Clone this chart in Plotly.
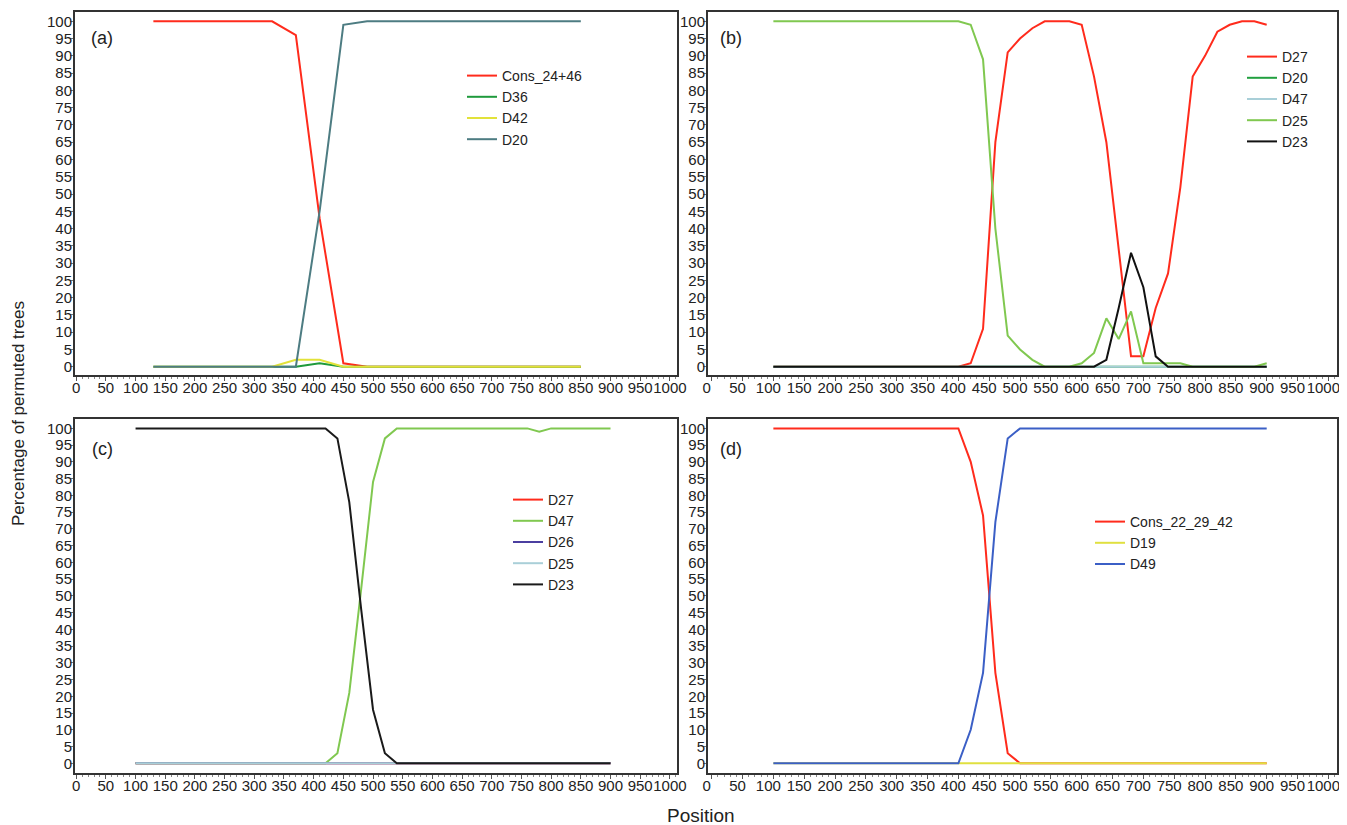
import plotly.graph_objects as go

# ---------------- data ----------------
pos_a = [130, 170, 210, 250, 290, 330, 370, 410, 450, 490, 530, 570, 610, 650, 690, 730, 770, 810, 850]
a_cons = [100, 100, 100, 100, 100, 100, 96, 43, 1, 0, 0, 0, 0, 0, 0, 0, 0, 0, 0]
a_d36 = [0, 0, 0, 0, 0, 0, 0, 1, 0, 0, 0, 0, 0, 0, 0, 0, 0, 0, 0]
a_d42 = [0, 0, 0, 0, 0, 0, 2, 2, 0, 0, 0, 0, 0, 0, 0, 0, 0, 0, 0]
a_d20 = [0, 0, 0, 0, 0, 0, 0, 45, 99, 100, 100, 100, 100, 100, 100, 100, 100, 100, 100]

pos = [100, 120, 140, 160, 180, 200, 220, 240, 260, 280, 300, 320, 340, 360, 380, 400,
       420, 440, 460, 480, 500, 520, 540, 560, 580, 600, 620, 640, 660, 680, 700, 720,
       740, 760, 780, 800, 820, 840, 860, 880, 900]

b_d27 = [0, 0, 0, 0, 0, 0, 0, 0, 0, 0, 0, 0, 0, 0, 0, 0,
         1, 11, 65, 91, 95, 98, 100, 100, 100, 99, 84, 65, 34, 3, 3, 17,
         27, 52, 84, 90, 97, 99, 100, 100, 99]
b_d20 = [0, 0, 0, 0, 0, 0, 0, 0, 0, 0, 0, 0, 0, 0, 0, 0,
         0, 0, 0, 0, 0, 0, 0, 0, 0, 0, 0, 0, 0, 0, 0, 0,
         0, 0, 0, 0, 0, 0, 0, 0, 0]
b_d47 = [0, 0, 0, 0, 0, 0, 0, 0, 0, 0, 0, 0, 0, 0, 0, 0,
         0, 0, 0, 0, 0, 0, 0, 0, 0, 0, 0, 0, 0, 0, 0, 0,
         0, 0, 0, 0, 0, 0, 0, 0, 0]
b_d25 = [100, 100, 100, 100, 100, 100, 100, 100, 100, 100, 100, 100, 100, 100, 100, 100,
         99, 89, 40, 9, 5, 2, 0, 0, 0, 1, 4, 14, 8, 16, 1, 1,
         1, 1, 0, 0, 0, 0, 0, 0, 1]
b_d23 = [0, 0, 0, 0, 0, 0, 0, 0, 0, 0, 0, 0, 0, 0, 0, 0,
         0, 0, 0, 0, 0, 0, 0, 0, 0, 0, 0, 2, 17, 33, 23, 3,
         0, 0, 0, 0, 0, 0, 0, 0, 0]

c_d27 = [0, 0, 0, 0, 0, 0, 0, 0, 0, 0, 0, 0, 0, 0, 0, 0,
         0, 0, 0, 0, 0, 0, 0, 0, 0, 0, 0, 0, 0, 0, 0, 0,
         0, 0, 0, 0, 0, 0, 0, 0, 0]
c_d47 = [0, 0, 0, 0, 0, 0, 0, 0, 0, 0, 0, 0, 0, 0, 0, 0,
         0, 3, 21, 52, 84, 97, 100, 100, 100, 100, 100, 100, 100, 100, 100, 100,
         100, 100, 99, 100, 100, 100, 100, 100, 100]
c_d26 = [0, 0, 0, 0, 0, 0, 0, 0, 0, 0, 0, 0, 0, 0, 0, 0,
         0, 0, 0, 0, 0, 0, 0, 0, 0, 0, 0, 0, 0, 0, 0, 0,
         0, 0, 0, 0, 0, 0, 0, 0, 0]
c_d25 = [0, 0, 0, 0, 0, 0, 0, 0, 0, 0, 0, 0, 0, 0, 0, 0,
         0, 0, 0, 0, 0, 0, 0, 0, 0, 0, 0, 0, 0, 0, 0, 0,
         0, 0, 0, 0, 0, 0, 0, 0, 0]
c_d23 = [100, 100, 100, 100, 100, 100, 100, 100, 100, 100, 100, 100, 100, 100, 100, 100,
         100, 97, 78, 46, 16, 3, 0, 0, 0, 0, 0, 0, 0, 0, 0, 0,
         0, 0, 0, 0, 0, 0, 0, 0, 0]

d_cons = [100, 100, 100, 100, 100, 100, 100, 100, 100, 100, 100, 100, 100, 100, 100, 100,
          90, 74, 27, 3, 0, 0, 0, 0, 0, 0, 0, 0, 0, 0, 0, 0,
          0, 0, 0, 0, 0, 0, 0, 0, 0]
d_d19 = [0, 0, 0, 0, 0, 0, 0, 0, 0, 0, 0, 0, 0, 0, 0, 0,
         0, 0, 0, 0, 0, 0, 0, 0, 0, 0, 0, 0, 0, 0, 0, 0,
         0, 0, 0, 0, 0, 0, 0, 0, 0]
d_d49 = [0, 0, 0, 0, 0, 0, 0, 0, 0, 0, 0, 0, 0, 0, 0, 0,
         10, 27, 72, 97, 100, 100, 100, 100, 100, 100, 100, 100, 100, 100, 100, 100,
         100, 100, 100, 100, 100, 100, 100, 100, 100]

panel_labels = ["(a)", "(b)", "(c)", "(d)"]

# ---------------- style ----------------
RED = "#ff2b1c"
FONT = "Arial, Liberation Sans, Helvetica, sans-serif"
# page body has an 8px margin; the figure origin sits at (8, 8) in the window
OFF = 8
W, H = 1347, 825

fig = go.Figure()

def add(x, y, name, color, xa, ya, leg, width=2):
    fig.add_trace(go.Scatter(x=x, y=y, name=name, mode="lines",
                             line=dict(color=color, width=width),
                             xaxis=xa, yaxis=ya, legend=leg))

# (a)
add(pos_a, a_cons, "Cons_24+46", RED, "x", "y", "legend")
add(pos_a, a_d36, "D36", "#1f9a3c", "x", "y", "legend")
add(pos_a, a_d42, "D42", "#e2e23a", "x", "y", "legend")
add(pos_a, a_d20, "D20", "#4d7c82", "x", "y", "legend")
# (b)
add(pos, b_d27, "D27", RED, "x2", "y2", "legend2")
add(pos, b_d20, "D20", "#22a040", "x2", "y2", "legend2")
add(pos, b_d47, "D47", "#a9cfd8", "x2", "y2", "legend2")
add(pos, b_d25, "D25", "#80c850", "x2", "y2", "legend2")
add(pos, b_d23, "D23", "#111111", "x2", "y2", "legend2")
# (c)
add(pos, c_d27, "D27", RED, "x3", "y3", "legend3")
add(pos, c_d47, "D47", "#80c850", "x3", "y3", "legend3")
add(pos, c_d26, "D26", "#4b3fa0", "x3", "y3", "legend3")
add(pos, c_d25, "D25", "#a9cfd8", "x3", "y3", "legend3")
add(pos, c_d23, "D23", "#1a1a1a", "x3", "y3", "legend3")
# (d)
add(pos, d_cons, "Cons_22_29_42", RED, "x4", "y4", "legend4")
add(pos, d_d19, "D19", "#e0e040", "x4", "y4", "legend4")
add(pos, d_d49, "D49", "#3b5fc6", "x4", "y4", "legend4")

def px_x(p):
    return (p - OFF) / W

def px_y(p):
    return 1 - (p - OFF) / H

left_dom = [px_x(75), px_x(677)]
right_dom = [px_x(708), px_x(1337)]
top_dom = [px_y(375), px_y(12)]
bot_dom = [px_y(773), px_y(419)]

def xax(dom, anchor, rng, shift=0):
    return dict(domain=dom, anchor=anchor, range=rng, tickmode="linear", tick0=0, dtick=50,
                showline=True, mirror=True, linecolor="#333333", linewidth=2,
                ticks="outside", ticklen=4, tickcolor="#555555", tickwidth=1,
                minor=dict(dtick=10, ticks="outside", ticklen=2, tickcolor="#888888"),
                showgrid=False, zeroline=False, tickangle=0, automargin=False,
                ticklabelstandoff=-6, ticklabelshift=shift, ticklabeloverflow="allow",
                tickfont=dict(family=FONT, size=15, color="#222222"))

def yax(dom, anchor, rng):
    return dict(domain=dom, anchor=anchor, range=rng, tickmode="linear", tick0=0, dtick=5,
                showline=True, mirror=True, linecolor="#333333", linewidth=2,
                ticks="outside", ticklen=3, tickcolor="#777777", tickwidth=1,
                showgrid=False, zeroline=False, automargin=False,
                ticklabelstandoff=-5,
                tickfont=dict(family=FONT, size=15, color="#222222"))

fig.update_layout(
    width=W, height=H, autosize=False,
    margin=dict(l=0, r=0, t=0, b=0),
    paper_bgcolor="white", plot_bgcolor="white",
    font=dict(family=FONT, color="#222222"),
    xaxis=xax(left_dom, "y", [-2, 1012]),
    yaxis=yax(top_dom, "x", [-2.4, 102.7]),
    xaxis2=xax(right_dom, "y2", [-6, 1014], shift=-5),
    yaxis2=yax(top_dom, "x2", [-2.4, 102.7]),
    xaxis3=xax(left_dom, "y3", [-2, 1012]),
    yaxis3=yax(bot_dom, "x3", [-2.9, 102.8]),
    xaxis4=xax(right_dom, "y4", [-6, 1014], shift=-5),
    yaxis4=yax(bot_dom, "x4", [-2.9, 102.8]),
    showlegend=True,
)

def leg(xp, yp):
    return dict(x=px_x(xp), y=px_y(yp), xanchor="left", yanchor="top",
                bgcolor="rgba(255,255,255,0)", borderwidth=0, itemwidth=30,
                font=dict(family=FONT, size=14, color="#222222"), tracegroupgap=0)

fig.update_layout(
    legend=leg(462, 60),
    legend2=leg(1242, 41),
    legend3=leg(508, 484),
    legend4=leg(1090, 506),
)

annots = []
for lab, (xp, yp) in zip(panel_labels, [(102, 38), (731, 38), (102, 449), (731, 449)]):
    annots.append(dict(text=lab, x=px_x(xp), y=px_y(yp), xref="paper", yref="paper",
                       showarrow=False, xanchor="center", yanchor="middle",
                       font=dict(family=FONT, size=18, color="#222222")))
annots.append(dict(text="Percentage of permuted trees", x=px_x(18), y=px_y(414),
                   xref="paper", yref="paper", showarrow=False, textangle=-90,
                   xanchor="center", yanchor="middle",
                   font=dict(family=FONT, size=17, color="#222222")))
annots.append(dict(text="Position", x=px_x(701), y=px_y(815), xref="paper", yref="paper",
                   showarrow=False, xanchor="center", yanchor="middle",
                   font=dict(family=FONT, size=19, color="#222222")))
fig.update_layout(annotations=annots)

fig.write_html("out.html")
